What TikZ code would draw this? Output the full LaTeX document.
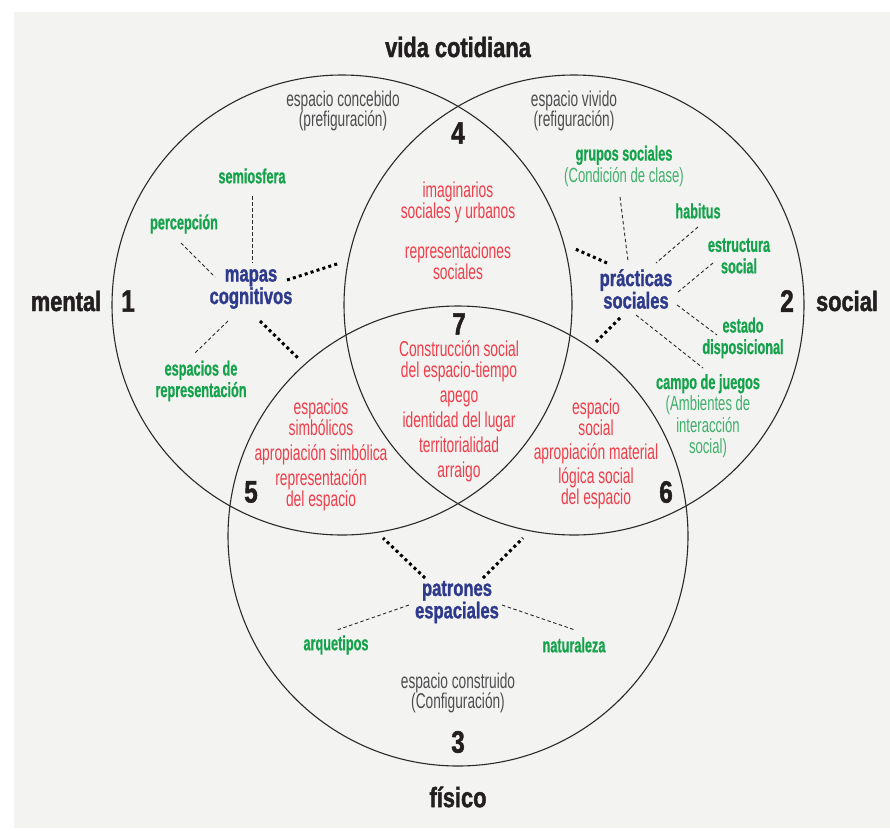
\documentclass[tikz,border=0pt]{standalone}
\usepackage{fontspec}
\setmainfont{Liberation Sans}
\newfontfamily\fcond{Liberation Sans}[FakeStretch=0.64]
\newfontfamily\fgreen{Liberation Sans}[FakeStretch=0.62, BoldFeatures={FakeBold=0.6}]
\newfontfamily\fblue{Liberation Sans}[FakeStretch=0.72, BoldFeatures={FakeBold=1.2}]
\newfontfamily\ftitle{Liberation Sans}[FakeStretch=0.78, BoldFeatures={FakeBold=1.5}]
\definecolor{bg}{HTML}{F3F3F1}
\definecolor{ink}{HTML}{231F20}
\definecolor{redt}{HTML}{EE3E4A}
\definecolor{grn}{HTML}{14A24B}
\definecolor{lgrn}{HTML}{3FB06A}
\definecolor{blu}{HTML}{2E3A8C}
\definecolor{grayt}{HTML}{4D4D4F}
\definecolor{linec}{HTML}{2A2A2A}
\tikzset{
  every node/.style={inner sep=0pt, outer sep=0pt, align=center},
  titl/.style={text=ink, font=\ftitle\bfseries\fontsize{28}{30}\selectfont},
  numb/.style={text=ink, font=\ftitle\bfseries\fontsize{31}{31}\selectfont},
  graytxt/.style={text=grayt, font=\fcond\fontsize{21.4}{20.5}\selectfont},
  redtxt/.style={text=redt, font=\fcond\fontsize{21.6}{21}\selectfont},
  grntxt/.style={text=grn, font=\fgreen\bfseries\fontsize{20.5}{21.5}\selectfont},
  blutxt/.style={text=blu, font=\fblue\bfseries\fontsize{23}{20}\selectfont},
  circ/.style={draw=linec, line width=1.1pt},
  thin/.style={draw=linec, line width=0.9pt, dash pattern=on 3.5pt off 2.5pt},
  heavy/.style={draw=black, line width=3pt, dash pattern=on 3pt off 3.2pt}
}
\begin{document}
\begin{tikzpicture}[x=1pt,y=-1pt]
\useasboundingbox (0,0) rectangle (890,830);
\fill[bg] (14,12) rectangle (890,828);
% circles
\draw[circ] (342,305) circle (230);
\draw[circ] (574,305) circle (230);
\draw[circ] (458,536) circle (230);
% titles
\node[titl] (vida) at (458,47) {vida cotidiana};
\node[titl] (mental) at (66,301) {mental};
\node[titl] (social) at (847,301) {social};
\node[titl] (fisico) at (458,797) {físico};
% numbers
\node[numb] (n1) at (128,301) {1};
\node[numb] (n2) at (787,301) {2};
\node[numb] (n3) at (458,742) {3};
\node[numb] (n4) at (458,133) {4};
\node[numb] (n5) at (251,492) {5};
\node[numb] (n6) at (666,492) {6};
\node[numb] (n7) at (459,324) {7};
% gray labels
\node[graytxt] (concebido) at (343,111) {espacio concebido\\(prefiguración)};
\node[graytxt] (vivido) at (574,111) {espacio vivido\\(refiguración)};
\node[graytxt] (construido) at (458,693) {espacio construido\\(Configuración)};
% blue hubs
\node[blutxt] (mapas) at (251,289) {mapas\\cognitivos};
\node[blutxt] (practicas) at (636,289) {prácticas\\sociales};
\node[blutxt] (patrones) at (457,602) {patrones\\espaciales};
% green labels
\node[grntxt] (semiosfera) at (252,176) {semiosfera};
\node[grntxt] (percepcion) at (184,224) {percepción};
\node[grntxt] (esprep) at (201,381) {espacios de\\representación};
\node[grntxt] (grupos) at (624,166) {grupos sociales\\{\mdseries\fcond\color{lgrn}(Condición de clase)}};
\node[grntxt] (habitus) at (698,211) {habitus};
\node[grntxt] (estructura) at (739,256) {estructura\\social};
\node[grntxt] (estado) at (743,338) {estado\\disposicional};
\node[grntxt] (campo) at (708,416) {campo de juegos\\{\mdseries\fcond\color{lgrn}(Ambientes de}\\{\mdseries\fcond\color{lgrn}interacción}\\{\mdseries\fcond\color{lgrn}social)}};
\node[grntxt] (arquetipos) at (336,645) {arquetipos};
\node[grntxt] (naturaleza) at (574,645) {naturaleza};
% red labels
\node[redtxt] (imaginarios) at (458,202) {imaginarios\\sociales y urbanos};
\node[redtxt] (representaciones) at (458,261) {representaciones\\sociales};
\node[redtxt] (centro) at (459,411) {Construcción social\\del espacio-tiempo\\[4pt]apego\\[4pt]identidad del lugar\\[4pt]territorialidad\\[4pt]arraigo};
\node[redtxt] (cinco) at (321,455) {espacios\\simbólicos\\[4pt]apropiación simbólica\\[4pt]representación\\del espacio};
\node[redtxt] (seis) at (596,454) {espacio\\social\\[3pt]apropiación material\\[3pt]lógica social\\del espacio};
% connector end points
\coordinate (semA) at (252,196); \coordinate (semB) at (252,263);
\coordinate (perA) at (181,243); \coordinate (perB) at (215,277);
\coordinate (repA) at (228,321); \coordinate (repB) at (195,353);
\coordinate (m4A) at (287,280); \coordinate (m4B) at (340,263);
\coordinate (m5A) at (260,321); \coordinate (m5B) at (299,359);
\coordinate (p4A) at (607,263); \coordinate (p4B) at (573,248);
\coordinate (p6A) at (620,318); \coordinate (p6B) at (596,342);
\coordinate (grA) at (620,197); \coordinate (grB) at (628,261);
\coordinate (haA) at (698,227); \coordinate (haB) at (656,263);
\coordinate (esA) at (713,263); \coordinate (esB) at (678,292);
\coordinate (edA) at (677,305); \coordinate (edB) at (717,335);
\coordinate (caA) at (636,315); \coordinate (caB) at (703,368);
\coordinate (t5A) at (425,578); \coordinate (t5B) at (383,538);
\coordinate (t6A) at (483,578); \coordinate (t6B) at (523,538);
\coordinate (arA) at (409,605); \coordinate (arB) at (337,630);
\coordinate (naA) at (502,605); \coordinate (naB) at (575,630);
% thin dashed connectors
\draw[thin] (semA) -- (semB);
\draw[thin] (perA) -- (perB);
\draw[thin] (repA) -- (repB);
\draw[thin] (grA) -- (grB);
\draw[thin] (haA) -- (haB);
\draw[thin] (esA) -- (esB);
\draw[thin] (edA) -- (edB);
\draw[thin] (caA) -- (caB);
\draw[thin] (arA) -- (arB);
\draw[thin] (naA) -- (naB);
% heavy dotted connectors
\draw[heavy] (m4A) -- (m4B);
\draw[heavy] (m5A) -- (m5B);
\draw[heavy] (p4A) -- (p4B);
\draw[heavy] (p6A) -- (p6B);
\draw[heavy] (t5A) -- (t5B);
\draw[heavy] (t6A) -- (t6B);
\end{tikzpicture}
\end{document}
